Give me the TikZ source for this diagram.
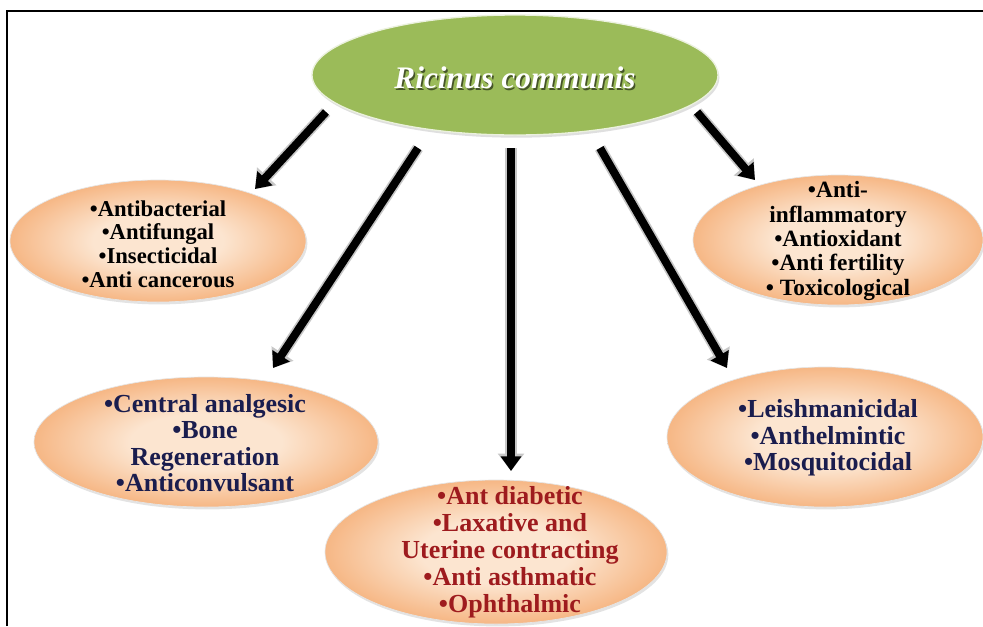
\documentclass[tikz,border=0pt]{standalone}
\usepackage{fontspec}
\setmainfont{Liberation Serif}
\usetikzlibrary{shapes.geometric,arrows.meta,shadows}
\definecolor{peachin}{HTML}{FCE5D0}
\definecolor{peachout}{HTML}{F6B785}
\definecolor{leaf}{HTML}{9BBB59}
\definecolor{navy}{HTML}{1A1D4E}
\definecolor{wine}{HTML}{9E1B1E}
\pgfdeclareradialshading{peachshade}{\pgfpoint{0bp}{0bp}}{color(0bp)=(peachin); color(11bp)=(peachin); color(25bp)=(peachout); color(50bp)=(peachout)}
\begin{document}
\begin{tikzpicture}[x=0.75pt,y=-0.75pt,
  blob/.style 2 args={ellipse, inner sep=0pt, minimum width=#1*1.5pt, minimum height=#2*1.5pt,
    shading=peachshade, draw=black!10, line width=0.5pt,
    drop shadow={opacity=0.22, shadow xshift=1pt, shadow yshift=-1.8pt}},
  leafblob/.style 2 args={ellipse, inner sep=0pt, minimum width=#1*1.5pt, minimum height=#2*1.5pt,
    fill=leaf, draw=white!80!leaf, line width=1pt,
    drop shadow={opacity=0.25, shadow xshift=1pt, shadow yshift=-2pt}},
  smalltxt/.style={align=center, font=\fontsize{17}{17.7}\selectfont\bfseries, text=black},
  righttxt/.style={align=center, font=\fontsize{17.5}{18.3}\selectfont\bfseries, text=black},
  bigtxt/.style={align=center, font=\fontsize{19.5}{19.8}\selectfont\bfseries},
  bottxt/.style={align=center, font=\fontsize{19.5}{20.3}\selectfont\bfseries, text=wine},
  titletxt/.style={font=\fontsize{23.5}{28}\selectfont\bfseries\itshape},
  arr/.style={line width=6pt, black, -{Triangle[length=11pt, width=15pt]}},
  halo/.style={line width=8.5pt, black!22, -{Triangle[length=13pt, width=19pt]}, shift={(1.2,1.2)}},
  frame/.style={line width=1.1pt, black}
]
\useasboundingbox (0,0) rectangle (983,626);
\fill[white] (0,0) rectangle (983,626);

% frame
\coordinate (fa) at (7,11);
\coordinate (fb) at (983,11);
\coordinate (fc) at (7,626);
\draw[frame] (fc) -- (fa) -- (fb);

% ellipses
\node[leafblob={203}{60}] (top) at (515,75) {};
\node[blob={148}{61}] (ab) at (158,241) {};
\node[blob={145}{65}] (tr) at (838,240) {};
\node[blob={172}{65}] (lm) at (206,442) {};
\node[blob={158}{70}] (rm) at (825,437) {};
\node[blob={171}{72}] (bot) at (496,552) {};

% title
\node[titletxt, text=black, opacity=0.55] (titleshadow) at (516.5,79.5) {Ricinus communis};
\node[titletxt, text=white] (title) at (515,78) {Ricinus communis};

% texts
\node[smalltxt] (abt) at (158,244) {•Antibacterial\\•Antifungal\\•Insecticidal\\•Anti cancerous};
\node[righttxt] (trt) at (838,241) {•Anti-\\inflammatory\\•Antioxidant\\•Anti fertility\\• Toxicological};
\node[bigtxt, text=navy] (lmt) at (205,443) {•Central analgesic\\•Bone\\Regeneration\\•Anticonvulsant};
\node[bigtxt, text=navy] (rmt) at (828,438) {•Leishmanicidal\\•Anthelmintic\\•Mosquitocidal};
\node[bottxt] (bott) at (510,552) {•Ant diabetic\\•Laxative and\\Uterine contracting\\•Anti asthmatic\\•Ophthalmic};

% arrow end points
\coordinate (s1) at (326,112);
\coordinate (e1) at (255,189);
\coordinate (s2) at (418,148);
\coordinate (e2) at (273,368);
\coordinate (s3) at (511,148);
\coordinate (e3) at (511,471);
\coordinate (s4) at (600,148);
\coordinate (e4) at (727,368);
\coordinate (s5) at (697,112);
\coordinate (e5) at (755,180);

\foreach \i in {1,...,5} {
  \draw[halo] (s\i) -- (e\i);
  \draw[arr] (s\i) -- (e\i);
}
\end{tikzpicture}
\end{document}
